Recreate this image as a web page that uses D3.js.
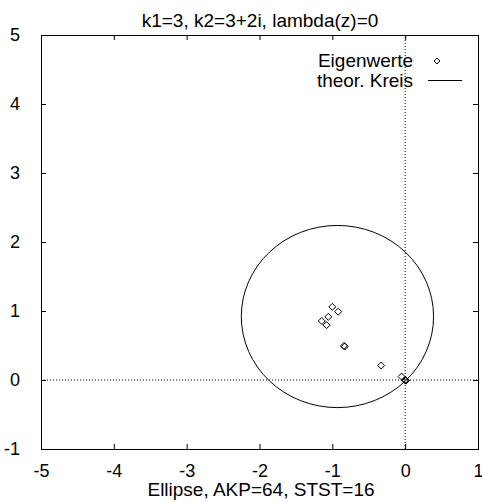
<!DOCTYPE html>
<html>
<head>
<meta charset="utf-8">
<script src="https://cdn.jsdelivr.net/npm/d3@7"></script>
<style>
  body { margin: 0; background: #fff; }
  text { font-family: "Liberation Sans", Arial, sans-serif; font-size: 19px; fill: #000; }
</style>
</head>
<body>
<div id="chart"></div>
<script>
'use strict';

const width = 482, height = 503;
const margin = { left: 41, right: 4, top: 35, bottom: 54 };

const xTicks = [-5, -4, -3, -2, -1, 0, 1];
const yTicks = [-1, 0, 1, 2, 3, 4, 5];

// eigenvalues (re, im)
const eigRe = [-1.00, -0.92, -1.055, -1.145, -1.08, -0.84, -0.83, -0.33, -0.05, 0.00, 0.005, 0.01];
const eigIm = [1.06, 0.99, 0.915, 0.855, 0.795, 0.495, 0.485, 0.21, 0.05, 0.00, -0.005, -0.01];

// theoretical circle
const circleCenter = [-0.93, 0.92];
const circleRadius = 1.32;

const svg = d3.select('#chart').append('svg')
    .attr('width', width)
    .attr('height', height);

const x = d3.scaleLinear().domain([-5, 1]).range([margin.left, width - margin.right]);
const y = d3.scaleLinear().domain([-1, 5]).range([height - margin.bottom, margin.top]);

const x0 = x.range()[0], x1 = x.range()[1];
const y0 = y.range()[0], y1 = y.range()[1];

const fmt = d => String(d); // plain hyphen minus like the original

// zero axes
svg.append('line')
    .attr('x1', x(0)).attr('x2', x(0)).attr('y1', y0).attr('y2', y1)
    .attr('stroke', '#000').attr('stroke-width', 1).attr('stroke-dasharray', '1,2');
svg.append('line')
    .attr('x1', x0).attr('x2', x1).attr('y1', y(0)).attr('y2', y(0))
    .attr('stroke', '#000').attr('stroke-width', 1).attr('stroke-dasharray', '1,2');

// axes with mirrored ticks
svg.append('g')
    .attr('transform', `translate(0, ${y0})`)
    .call(d3.axisBottom(x).tickValues(xTicks).tickSize(-5).tickPadding(15).tickFormat(fmt))
    .call(g => g.select('.domain').remove());
svg.append('g')
    .attr('transform', `translate(0, ${y1})`)
    .call(d3.axisTop(x).tickValues(xTicks).tickSize(-5).tickFormat(''))
    .call(g => g.select('.domain').remove());
svg.append('g')
    .attr('transform', `translate(${x0}, 0)`)
    .call(d3.axisLeft(y).tickValues(yTicks).tickSize(-5).tickPadding(21).tickFormat(fmt))
    .call(g => g.select('.domain').remove());
svg.append('g')
    .attr('transform', `translate(${x1}, 0)`)
    .call(d3.axisRight(y).tickValues(yTicks).tickSize(-5).tickFormat(''))
    .call(g => g.select('.domain').remove());

svg.selectAll('.tick text')
    .style('font-family', '"Liberation Sans", Arial, sans-serif')
    .style('font-size', '18px');
svg.selectAll('.tick line').attr('stroke', '#000');

svg.append('rect')
    .attr('x', x0 + 0.5).attr('y', y1 + 0.5)
    .attr('width', x1 - x0).attr('height', y0 - y1)
    .attr('fill', 'none').attr('stroke', '#000').attr('stroke-width', 1);

// circle
svg.append('ellipse')
    .attr('cx', x(circleCenter[0])).attr('cy', y(circleCenter[1]))
    .attr('rx', x(circleRadius) - x(0)).attr('ry', y(0) - y(circleRadius))
    .attr('fill', 'none').attr('stroke', '#000').attr('stroke-width', 1);

// diamonds
const diamond = s => `M0,${-s}L${s},0L0,${s}L${-s},0Z`;
svg.selectAll('path.eig')
    .data(eigRe.map((r, i) => [r, eigIm[i]]))
    .enter()
    .append('path')
    .attr('class', 'eig')
    .attr('d', diamond(3.5))
    .attr('transform', d => `translate(${x(d[0])}, ${y(d[1])})`)
    .attr('fill', 'none').attr('stroke', '#000').attr('stroke-width', 1);

// legend
svg.append('text').text('Eigenwerte')
    .attr('x', 413).attr('y', 67).attr('text-anchor', 'end');
svg.append('path').attr('d', diamond(3))
    .attr('transform', 'translate(437, 61)')
    .attr('fill', 'none').attr('stroke', '#000');
svg.append('text').text('theor. Kreis')
    .attr('x', 413).attr('y', 87).attr('text-anchor', 'end');
svg.append('line')
    .attr('x1', 428).attr('x2', 462).attr('y1', 80.5).attr('y2', 80.5)
    .attr('stroke', '#000');

// titles
svg.append('text').text('k1=3, k2=3+2i, lambda(z)=0')
    .attr('x', 260).attr('y', 27).attr('text-anchor', 'middle');
svg.append('text').text('Ellipse, AKP=64, STST=16')
    .attr('x', 261).attr('y', 496).attr('text-anchor', 'middle');
</script>
</body>
</html>
